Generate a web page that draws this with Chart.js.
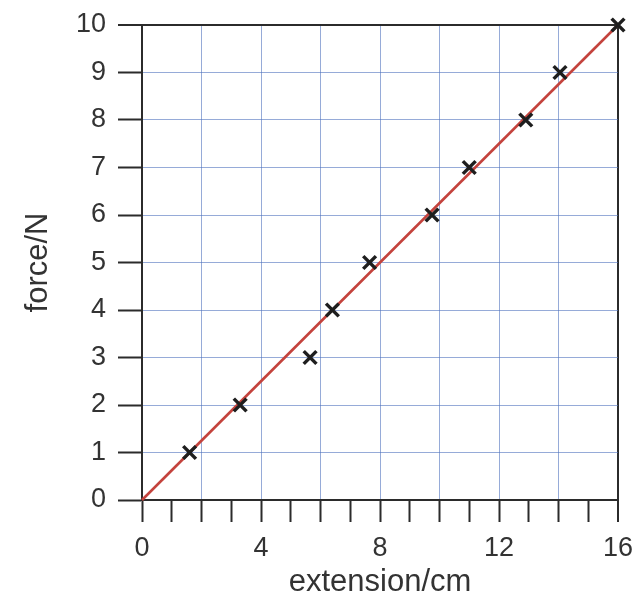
<!DOCTYPE html>
<html>
<head>
<meta charset="utf-8">
<script src="https://cdn.jsdelivr.net/npm/chart.js@4/dist/chart.umd.min.js"></script>
<style>
html,body{margin:0;padding:0;background:#fff;}
canvas{display:block;}
</style>
</head>
<body>
<canvas id="c" width="638" height="598"></canvas>
<script>
const extension = [1.6, 3.3, 5.65, 6.4, 7.65, 9.75, 11.0, 12.9, 14.05, 16.0];
const force = [1, 2, 3, 4, 5, 6, 7, 8, 9, 10];
const fitX = [0, 16];
const fitY = [0, 10];
const xLabels = [0, 4, 8, 12, 16];
const yLabels = [0, 1, 2, 3, 4, 5, 6, 7, 8, 9, 10];

const DARK = '#2b2b2b';
const BLUE = 'rgba(80,115,190,0.6)';
const FONT = "'Liberation Sans', Arial, Helvetica, sans-serif";

const chart = new Chart(document.getElementById('c'), {
  type: 'scatter',
  data: {
    datasets: [
      {
        data: extension.map((x, i) => ({x: x, y: force[i]})),
        pointStyle: 'crossRot',
        pointRadius: 9,
        pointBorderWidth: 3.5,
        borderColor: '#1e1e1e',
        backgroundColor: '#1e1e1e',
        clip: false
      },
      {
        type: 'line',
        data: fitX.map((x, i) => ({x: x, y: fitY[i]})),
        borderColor: '#c4433d',
        borderWidth: 2.6,
        pointRadius: 0,
        fill: false,
        clip: false
      }
    ]
  },
  options: {
    responsive: false,
    animation: false,
    layout: {padding: {top: 25, right: 20, left: 0, bottom: 0}},
    plugins: {legend: {display: false}, tooltip: {enabled: false}},
    scales: {
      x: {
        type: 'linear',
        min: 0, max: 16,
        afterFit: s => { s.height = 98; s.paddingLeft = 0; s.paddingRight = 0; },
        border: {display: true, color: DARK, width: 2},
        grid: {
          color: ctx => ctx.tick.value === 16 ? DARK : (ctx.tick.value % 2 === 0 ? BLUE : 'rgba(0,0,0,0)'),
          lineWidth: ctx => ctx.tick.value === 16 ? 2 : 1,
          tickColor: DARK,
          tickWidth: 2,
          tickLength: 22
        },
        ticks: {
          stepSize: 1,
          autoSkip: false,
          maxRotation: 0,
          padding: 10,
          color: '#333',
          font: {family: FONT, size: 27},
          callback: v => xLabels.includes(v) ? String(v) : ''
        },
        title: {
          display: true,
          text: 'extension/cm',
          color: '#333',
          font: {family: FONT, size: 31, lineHeight: 1},
          padding: {top: 0, bottom: 0}
        }
      },
      y: {
        type: 'linear',
        min: 0, max: 10,
        afterFit: s => { s.width = 142; s.paddingTop = 0; s.paddingBottom = 0; },
        border: {display: true, color: DARK, width: 2},
        grid: {
          color: ctx => ctx.tick.value === 10 ? DARK : BLUE,
          lineWidth: ctx => ctx.tick.value === 10 ? 2 : 1,
          tickColor: DARK,
          tickWidth: 2,
          tickLength: 24
        },
        ticks: {
          stepSize: 1,
          autoSkip: false,
          padding: 12,
          color: '#333',
          font: {family: FONT, size: 27},
          callback: v => yLabels.includes(v) ? String(v) : ''
        },
        title: {
          display: true,
          text: 'force/N',
          color: '#333',
          font: {family: FONT, size: 31, lineHeight: 1},
          padding: {top: 23, bottom: 0}
        }
      }
    }
  }
});
</script>
</body>
</html>
